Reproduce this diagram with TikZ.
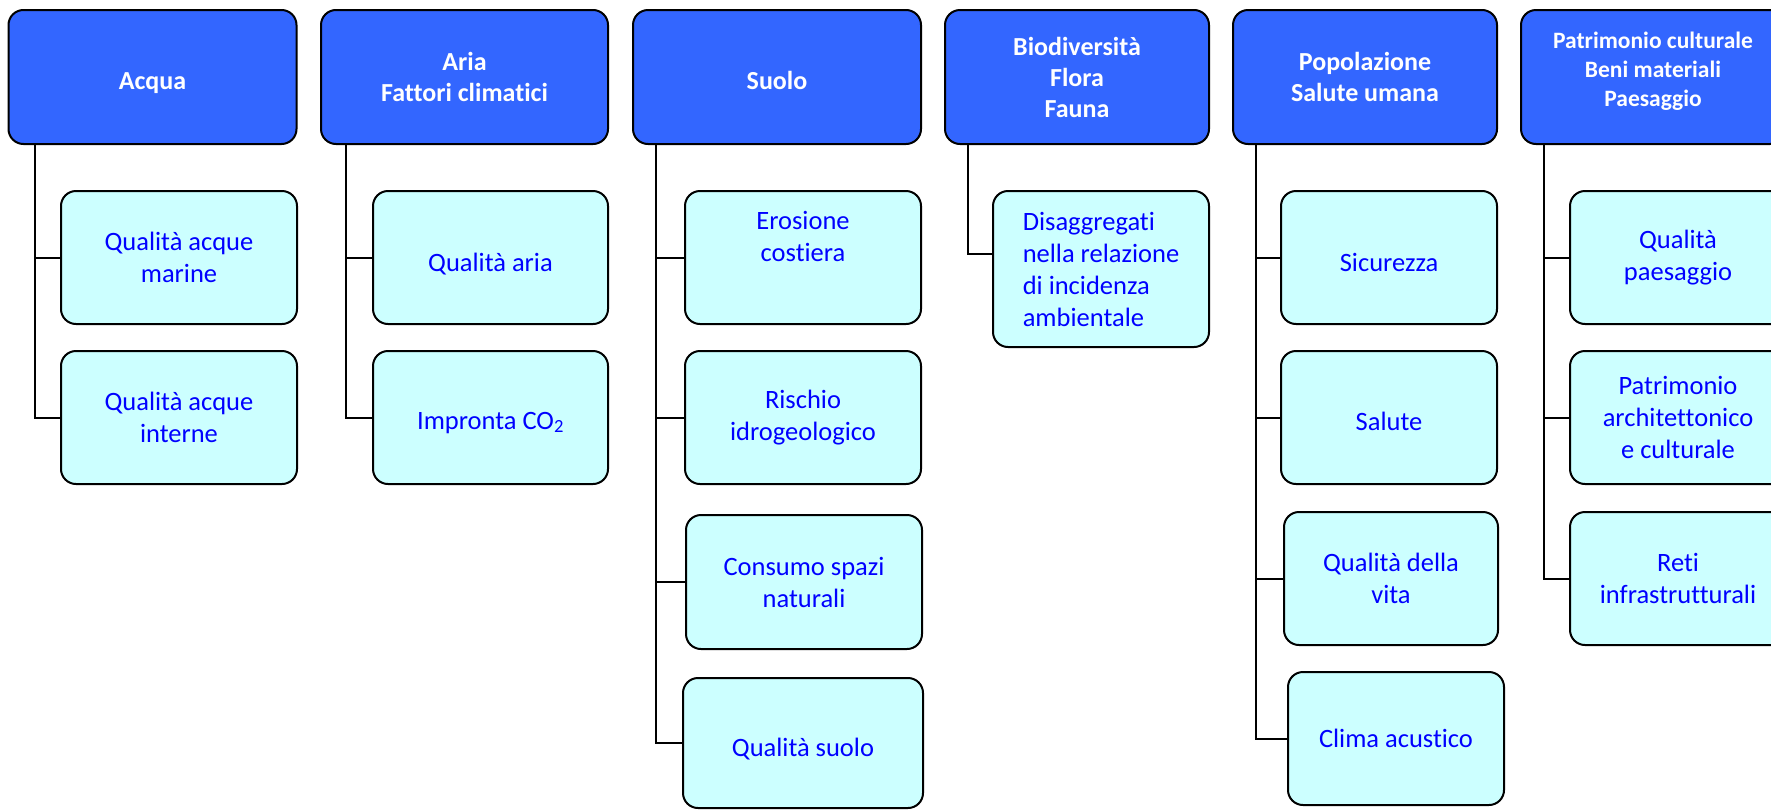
\documentclass[tikz,border=0pt]{standalone}
\usepackage{fontspec}
\setmainfont{Carlito}[Ligatures=NoCommon]
\definecolor{hdrblue}{HTML}{3366FF}
\definecolor{leafcyan}{HTML}{CCFFFF}
\begin{document}
\begin{tikzpicture}[x=1pt,y=-1pt]

    \tikzset{
      header/.style={
        draw,
        line width=2pt,
        rounded corners=15pt,
        fill=hdrblue,
        text=white,
        font=\fontsize{26}{31}\selectfont\bfseries,
        align=center,
        inner sep=0pt,
        minimum height=134pt,
      },
      leaf/.style={
        draw,
        line width=2pt,
        rounded corners=15pt,
        fill=leafcyan,
        text=blue,
        font=\fontsize{26.5}{32}\selectfont,
        align=center,
        inner sep=0pt,
        minimum height=133pt,
      },
      oneline/.style={text height=#1, text depth=0pt},
      link/.style={line width=2pt},
    }
    \useasboundingbox (0,0) rectangle (1771,809);
    \clip (0,0) rectangle (1771,809);

	\node[header, minimum width=288pt, oneline=24pt] (acqua) at (152.5,77) {Acqua};
	\node[header, minimum width=287pt] (aria) at (464.5,77) {Aria\\Fattori climatici};
	\node[header, minimum width=288pt, oneline=24pt] (suolo) at (777,77) {Suolo};
	\node[header, minimum width=264pt] (biodiv) at (1077,77) {Biodiversità\\Flora\\Fauna};
	\node[header, minimum width=264pt] (popol) at (1365,77) {Popolazione\\Salute umana};
	\node[header, minimum width=264pt, font=\fontsize{23.5}{29}\selectfont\bfseries] (patrim) at (1653,77) {Patrimonio culturale\\Beni materiali\\Paesaggio\rule[-15pt]{0pt}{0pt}};

	\node[leaf, minimum width=236pt] (acq1) at (179,257.5) {Qualità acque\\marine};
	\node[leaf, minimum width=236pt] (acq2) at (179,417.5) {Qualità acque\\interne};
	\node[leaf, minimum width=235pt, oneline=27pt] (ari1) at (490.5,257.5) {Qualità aria};
	\node[leaf, minimum width=235pt, oneline=23pt] (ari2) at (490.5,417.5) {Impronta CO\textsubscript{2}};
	\node[leaf, minimum width=236pt] (suo1) at (803,257.5) {Erosione\\costiera\\\strut};
	\node[leaf, minimum width=236pt] (suo2) at (803,417.5) {Rischio\\idrogeologico};
	\node[leaf, minimum width=236pt, minimum height=134pt] (suo3) at (804,582) {Consumo spazi\\naturali};
	\node[leaf, minimum width=240pt, minimum height=130pt, oneline=27pt] (suo4) at (803,743) {Qualità suolo};
	\node[leaf, minimum width=216pt, minimum height=156pt, align=left] (bio1) at (1101,269) {Disaggregati\\nella relazione\\di incidenza\\ambientale};
	\node[leaf, minimum width=216pt, oneline=28pt] (pop1) at (1389,257.5) {Sicurezza};
	\node[leaf, minimum width=216pt, oneline=25pt] (pop2) at (1389,417.5) {Salute};
	\node[leaf, minimum width=214pt] (pop3) at (1391,578.5) {Qualità della\\vita};
	\node[leaf, minimum width=216pt] (pop4) at (1396,738.5) {Clima acustico};
	\node[leaf, minimum width=216pt] (pat1) at (1678,257.5) {Qualità\\paesaggio};
	\node[leaf, minimum width=216pt] (pat2) at (1678,417.5) {Patrimonio\\architettonico\\e culturale};
	\node[leaf, minimum width=216pt] (pat3) at (1678,578.5) {Reti\\infrastrutturali};

	\foreach \hd/\lf/\dx in {acqua/acq1/27, acqua/acq2/27, aria/ari1/26, aria/ari2/26,
	  suolo/suo1/24, suolo/suo2/24, suolo/suo3/24, suolo/suo4/24,
	  popol/pop1/24, popol/pop2/24, popol/pop3/24, popol/pop4/24,
	  patrim/pat1/24, patrim/pat2/24, patrim/pat3/24}
	  \draw[link] ([xshift=\dx pt]\hd.south west) |- (\lf.west);
	\draw[link] ([xshift=24pt]biodiv.south west) |- ([yshift=15pt]bio1.west);

\end{tikzpicture}
\end{document}
